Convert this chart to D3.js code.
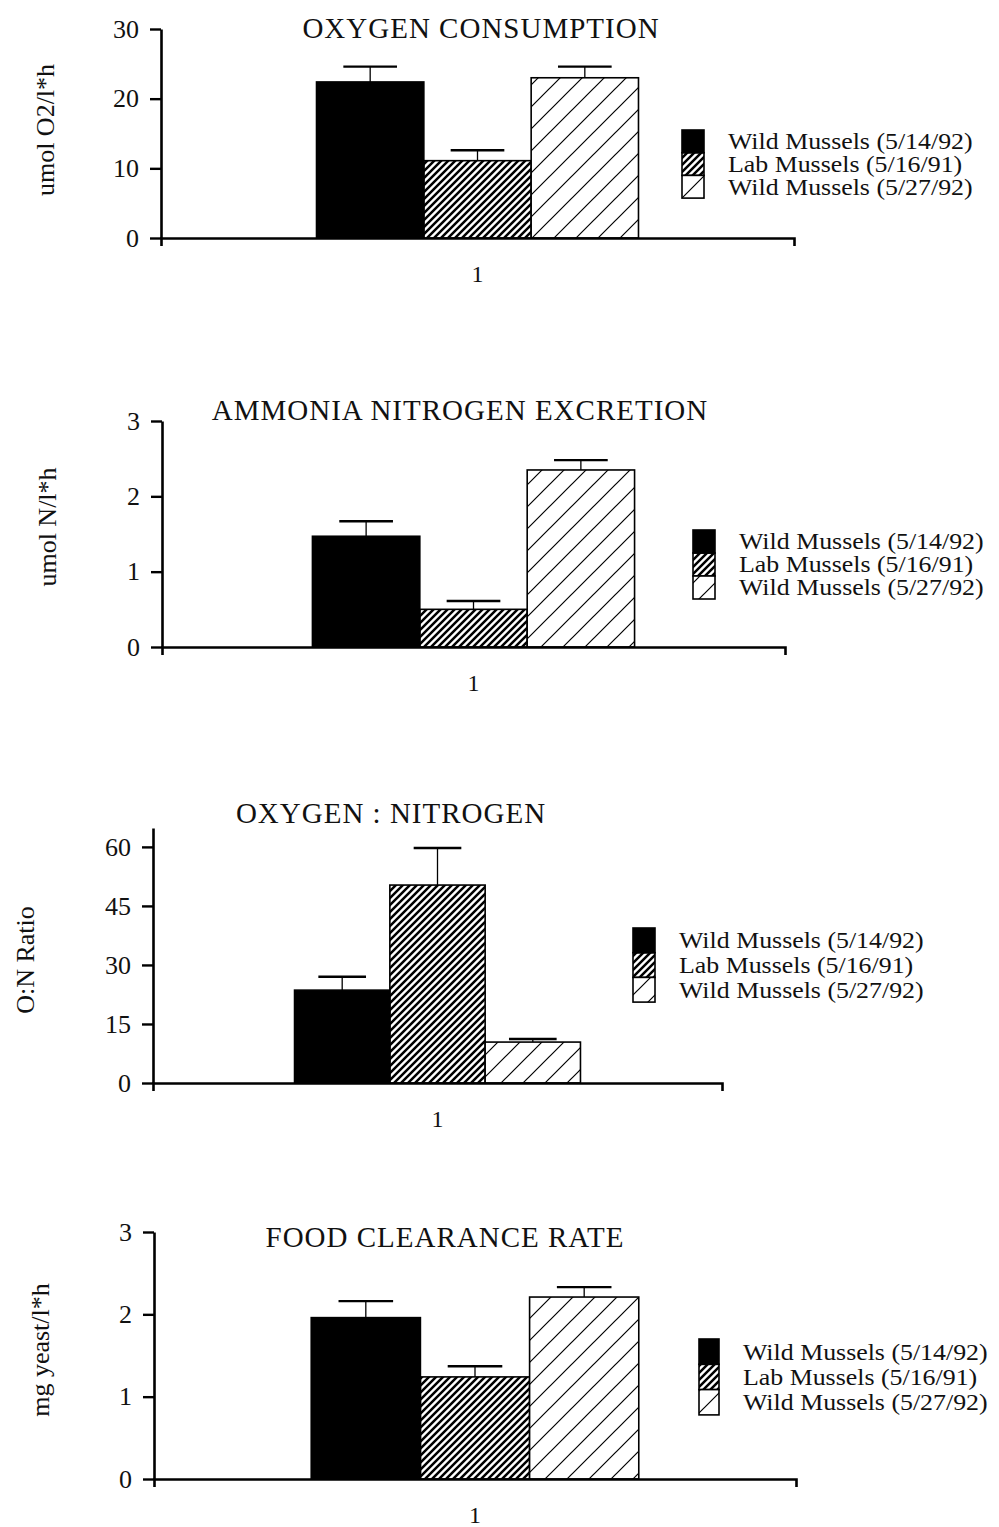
<!DOCTYPE html>
<html>
<head>
<meta charset="utf-8">
<script src="https://cdn.jsdelivr.net/npm/d3@7"></script>
<style>
  body { margin: 0; background: #fff; }
  text { font-family: "Liberation Serif", "Times New Roman", serif; fill: #111; }
</style>
</head>
<body>
<script>
// series shown in every panel
const seriesNames = ["Wild Mussels (5/14/92)", "Lab Mussels (5/16/91)", "Wild Mussels (5/27/92)"];
const categories = ["1"];

const panelTitles = ["OXYGEN CONSUMPTION", "AMMONIA NITROGEN EXCRETION", "OXYGEN : NITROGEN", "FOOD CLEARANCE RATE"];
const yAxisLabels = ["umol O2/l*h", "umol N/l*h", "O:N Ratio", "mg yeast/l*h"];
const yTicks = [[0, 10, 20, 30], [0, 1, 2, 3], [0, 15, 30, 45, 60], [0, 1, 2, 3]];
const yMaxima = [30, 3, 64.8, 3];

// means and error (upper bar only)
const oxygenMeans = [22.4, 11.1, 23.0];
const oxygenErrors = [2.2, 1.5, 1.6];
const ammoniaMeans = [1.47, 0.50, 2.35];
const ammoniaErrors = [0.20, 0.11, 0.13];
const ratioMeans = [23.6, 50.3, 10.4];
const ratioErrors = [3.4, 9.4, 0.8];
const clearanceMeans = [1.96, 1.24, 2.21];
const clearanceErrors = [0.20, 0.13, 0.12];

const panelMeans = [oxygenMeans, ammoniaMeans, ratioMeans, clearanceMeans];
const panelErrors = [oxygenErrors, ammoniaErrors, ratioErrors, clearanceErrors];

// page placement of each panel
const layout = [
  { x0: 161, x1: 794, y0: 238, yTop: 29, pad: 0.483, titleX: 481, titleY: 38, labX: 45, labY: 130, legX: 682, legY: 130, legW: 22, legH: 22.7, txtX: 728 },
  { x0: 162, x1: 785, y0: 647, yTop: 421, pad: 0.467, titleX: 460, titleY: 420, labX: 47, labY: 527, legX: 693, legY: 530, legW: 22, legH: 23, txtX: 739 },
  { x0: 153, x1: 722, y0: 1083, yTop: 828, pad: 0.495, titleX: 391, titleY: 823, labX: 25, labY: 960, legX: 633, legY: 928, legW: 22, legH: 24.7, txtX: 679 },
  { x0: 154, x1: 796, y0: 1479, yTop: 1232, pad: 0.48, titleX: 445, titleY: 1247, labX: 40, labY: 1350, legX: 699, legY: 1339, legW: 20, legH: 25.3, txtX: 743 }
];

const svg = d3.select("body").append("svg")
  .attr("width", 999)
  .attr("height", 1527);

const defs = svg.append("defs");

// dense hatching (lab mussels)
defs.append("pattern")
  .attr("id", "dense")
  .attr("patternUnits", "userSpaceOnUse")
  .attr("width", 7).attr("height", 7)
  .append("path")
  .attr("d", "M-1,1 l2,-2 M0,7 l7,-7 M6,8 l2,-2")
  .attr("stroke", "#000")
  .attr("stroke-width", 2.5);

// sparse hatching (wild mussels 5/27)
const sparse = defs.append("pattern")
  .attr("id", "sparse")
  .attr("patternUnits", "userSpaceOnUse")
  .attr("width", 22).attr("height", 22);
sparse.append("rect").attr("width", 22).attr("height", 22).attr("fill", "#fff");
sparse.append("path")
  .attr("d", "M-2,2 l4,-4 M0,22 l22,-22 M20,24 l4,-4")
  .attr("stroke", "#000")
  .attr("stroke-width", 1.2);

const fills = ["#000", "url(#dense)", "url(#sparse)"];

layout.forEach((L, i) => {
  const g = svg.append("g");

  const y = d3.scaleLinear()
    .domain([0, yMaxima[i]])
    .range([L.y0, L.yTop]);

  const x = d3.scaleBand()
    .domain(categories)
    .range([L.x0, L.x1])
    .paddingInner(0)
    .paddingOuter(L.pad);

  const xs = d3.scaleBand()
    .domain(seriesNames)
    .range([0, x.bandwidth()]);

  const rows = seriesNames.map((name, j) => ({
    name, j, mean: panelMeans[i][j], err: panelErrors[i][j]
  }));

  // error bars
  rows.forEach(d => {
    const cx = x(categories[0]) + xs(d.name) + xs.bandwidth() / 2;
    g.append("line")
      .attr("x1", cx).attr("x2", cx)
      .attr("y1", y(d.mean)).attr("y2", y(d.mean + d.err))
      .attr("stroke", "#000").attr("stroke-width", 1.3);
    g.append("line")
      .attr("x1", cx - xs.bandwidth() / 4).attr("x2", cx + xs.bandwidth() / 4)
      .attr("y1", y(d.mean + d.err)).attr("y2", y(d.mean + d.err))
      .attr("stroke", "#000").attr("stroke-width", 2.4);
  });

  g.selectAll("rect.bar")
    .data(rows)
    .enter().append("rect")
    .attr("class", "bar")
    .attr("x", d => x(categories[0]) + xs(d.name))
    .attr("y", d => y(d.mean))
    .attr("width", xs.bandwidth())
    .attr("height", d => y(0) - y(d.mean))
    .attr("fill", d => fills[d.j])
    .attr("stroke", "#000")
    .attr("stroke-width", 1.6);

  // y axis
  const ya = g.append("g")
    .attr("transform", `translate(${L.x0},0)`)
    .call(d3.axisLeft(y).tickValues(yTicks[i]).tickFormat(d3.format("d"))
      .tickSizeInner(11).tickSizeOuter(0).tickPadding(11));
  ya.select(".domain").attr("stroke", "#000").attr("stroke-width", 2.6);
  ya.selectAll(".tick line").attr("stroke", "#000").attr("stroke-width", 2.4);
  ya.selectAll(".tick text")
    .attr("font-family", "Liberation Serif, serif")
    .attr("font-size", 26)
    .attr("fill", "#111");

  // x axis
  const xa = g.append("g")
    .attr("transform", `translate(0,${L.y0})`)
    .call(d3.axisBottom(x).tickSizeInner(0).tickSizeOuter(8).tickPadding(27));
  xa.select(".domain").attr("stroke", "#000").attr("stroke-width", 2.6);
  xa.selectAll(".tick text")
    .attr("font-family", "Liberation Serif, serif")
    .attr("font-size", 24)
    .attr("fill", "#111");

  // title
  g.append("text")
    .attr("x", L.titleX)
    .attr("y", L.titleY)
    .attr("text-anchor", "middle")
    .attr("font-size", 29)
    .attr("letter-spacing", 1)
    .text(panelTitles[i]);

  // y label
  g.append("text")
    .attr("transform", `translate(${L.labX},${L.labY}) rotate(-90)`)
    .attr("text-anchor", "middle")
    .attr("dominant-baseline", "central")
    .attr("font-size", 26)
    .text(yAxisLabels[i]);

  // legend (rows are tight, so text is set smaller and stretched wide)
  const leg = g.append("g");
  seriesNames.forEach((name, j) => {
    leg.append("rect")
      .attr("x", L.legX)
      .attr("y", L.legY + j * L.legH)
      .attr("width", L.legW)
      .attr("height", L.legH)
      .attr("fill", fills[j])
      .attr("stroke", "#000")
      .attr("stroke-width", 1.6);
    leg.append("text")
      .attr("transform", `translate(${L.txtX},${L.legY + (j + 0.5) * L.legH}) scale(1.15,1)`)
      .attr("dominant-baseline", "central")
      .attr("font-size", Math.min(22.5, L.legH))
      .text(name);
  });
});
</script>
</body>
</html>
